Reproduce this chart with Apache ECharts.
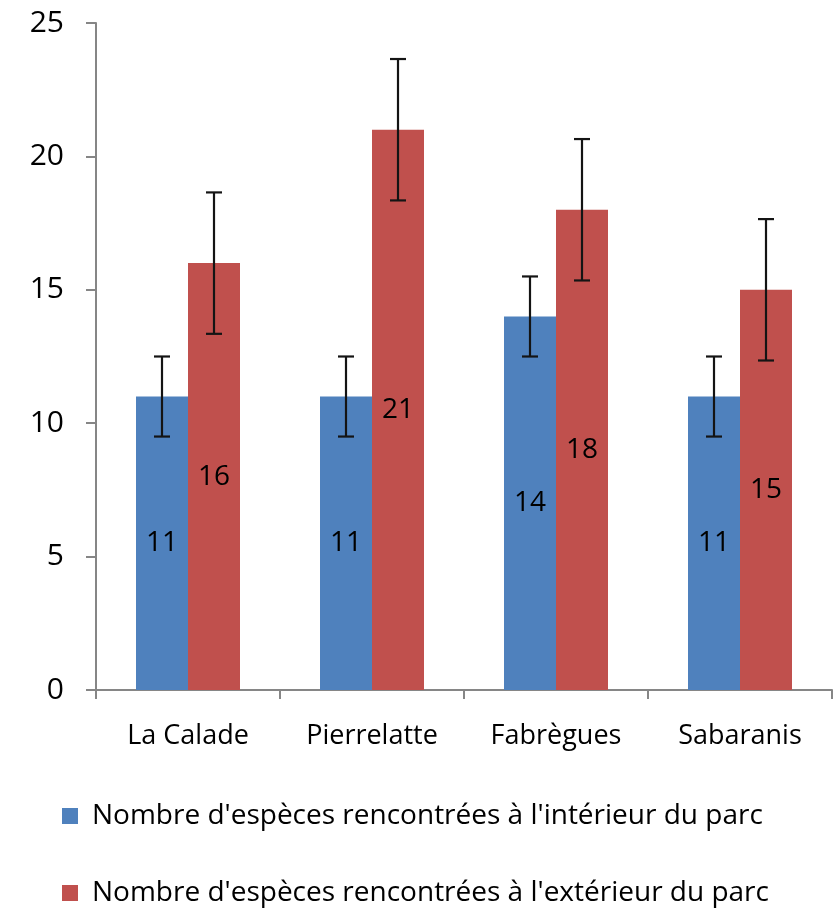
<!DOCTYPE html>
<html>
<head>
<meta charset="utf-8">
<script src="https://cdn.jsdelivr.net/npm/echarts@6/dist/echarts.min.js"></script>
<style>
  html, body { margin: 0; padding: 0; background: #fff; }
  #chart { width: 838px; height: 910px; }
</style>
</head>
<body>
<div id="chart"></div>
<script>
// Sites surveyed
const sites = ['La Calade', 'Pierrelatte', 'Fabrègues', 'Sabaranis'];
// Species counts inside and outside the park
const interieur = [11, 11, 14, 11];
const exterieur = [16, 21, 18, 15];
// Error bar half-widths
const errInterieur = [1.5, 1.5, 1.5, 1.5];
const errExterieur = [2.65, 2.65, 2.65, 2.65];
// Value axis ticks
const yTicks = [0, 5, 10, 15, 20, 25];

const nameInt = "Nombre d'espèces rencontrées à l'intérieur du parc";
const nameExt = "Nombre d'espèces rencontrées à l'extérieur du parc";

const FONT = 'Open Sans';
const TEXT = '#000';
const BAR_FRAC = 0.2826; // bar width relative to category width

function errorSeries(values, errs, side) {
  return {
    type: 'custom',
    z: 10,
    silent: true,
    data: values.map((v, i) => [i, v - errs[i], v + errs[i]]),
    encode: { x: 0, y: [1, 2] },
    renderItem: function (params, api) {
      const idx = api.value(0);
      const lo = api.coord([idx, api.value(1)]);
      const hi = api.coord([idx, api.value(2)]);
      const band = api.size([1, 0])[0];
      const x = lo[0] + side * band * BAR_FRAC / 2;
      const cap = 8;
      const style = { stroke: '#141414', lineWidth: 2.2 };
      return {
        type: 'group',
        children: [
          { type: 'line', shape: { x1: x, y1: lo[1], x2: x, y2: hi[1] }, style },
          { type: 'line', shape: { x1: x - cap, y1: hi[1], x2: x + cap, y2: hi[1] }, style },
          { type: 'line', shape: { x1: x - cap, y1: lo[1], x2: x + cap, y2: lo[1] }, style }
        ]
      };
    }
  };
}

const chart = echarts.init(document.getElementById('chart'), null, { renderer: 'canvas' });
chart.setOption({
  animation: false,
  backgroundColor: '#ffffff',
  textStyle: { fontFamily: FONT },
  grid: { left: 96, right: 6, top: 23, bottom: 220, containLabel: false },
  legend: {
    orient: 'vertical',
    left: 62,
    top: 802,
    padding: 0,
    itemGap: 49,
    itemWidth: 16,
    itemHeight: 16,
    icon: 'rect',
    data: [nameInt, nameExt],
    textStyle: { fontFamily: FONT, fontSize: 28, color: TEXT, padding: [0, 0, 0, 9] }
  },
  xAxis: {
    type: 'category',
    data: sites,
    axisLine: { lineStyle: { color: '#868686', width: 2 } },
    axisTick: { show: true, length: 9, alignWithLabel: false, lineStyle: { color: '#868686', width: 2 } },
    axisLabel: { color: TEXT, fontFamily: FONT, fontSize: 27, margin: 33 },
    splitLine: { show: false }
  },
  yAxis: {
    type: 'value',
    min: yTicks[0],
    max: yTicks[yTicks.length - 1],
    interval: 5,
    axisLine: { show: true, lineStyle: { color: '#868686', width: 2 } },
    axisTick: { show: true, length: 10, lineStyle: { color: '#868686', width: 2 } },
    axisLabel: { color: TEXT, fontFamily: FONT, fontSize: 30, margin: 32 },
    splitLine: { show: false }
  },
  series: [
    {
      name: nameInt,
      type: 'bar',
      data: interieur,
      barWidth: (BAR_FRAC * 100) + '%',
      barGap: '0%',
      itemStyle: { color: '#4F81BD' },
      label: { show: true, position: 'inside', color: TEXT, fontFamily: FONT, fontSize: 28 }
    },
    {
      name: nameExt,
      type: 'bar',
      data: exterieur,
      barWidth: (BAR_FRAC * 100) + '%',
      barGap: '0%',
      itemStyle: { color: '#C0504D' },
      label: { show: true, position: 'inside', color: TEXT, fontFamily: FONT, fontSize: 28 }
    },
    errorSeries(interieur, errInterieur, -1),
    errorSeries(exterieur, errExterieur, 1)
  ]
});
</script>
</body>
</html>
